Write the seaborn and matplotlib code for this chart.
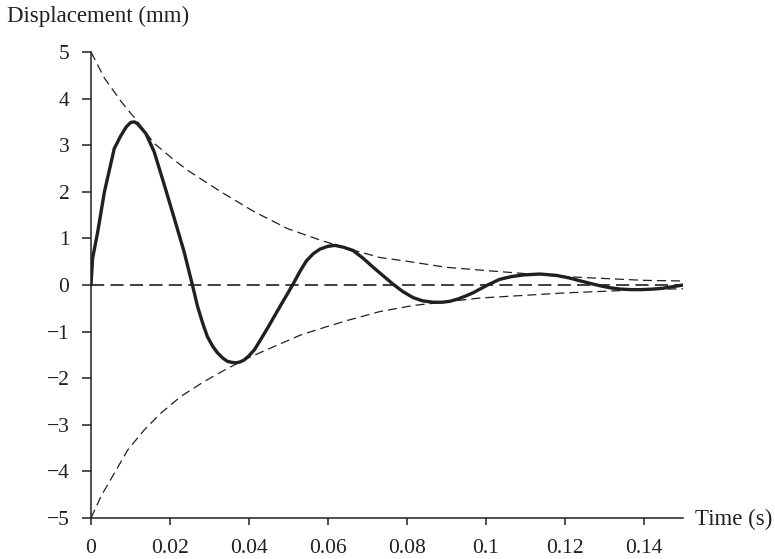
import numpy as np
import pandas as pd
import matplotlib
matplotlib.use("Agg")
import matplotlib.pyplot as plt
import seaborn as sns

# values
t_resp = [0.0, 0.0004, 0.0017, 0.0034, 0.0059, 0.0076, 0.0090, 0.0101, 0.0110, 0.0118,
          0.0139, 0.0160, 0.0186, 0.0211, 0.0236, 0.0257, 0.0270, 0.0283, 0.0295, 0.0308,
          0.0321, 0.0334, 0.0346, 0.0357, 0.0367, 0.0378, 0.0388, 0.0400, 0.0414, 0.0430,
          0.0447, 0.0464, 0.0481, 0.0497, 0.0512, 0.0530, 0.0546, 0.0563, 0.0580, 0.0600,
          0.0618, 0.0640, 0.0664, 0.0690, 0.0715, 0.0740, 0.0765, 0.0790, 0.0816, 0.0840,
          0.0867, 0.0890, 0.0909, 0.0930, 0.0951, 0.0970, 0.0985, 0.1005, 0.1035, 0.1065,
          0.1095, 0.1137, 0.1179, 0.1210, 0.1238, 0.1265, 0.1289, 0.1315, 0.1340, 0.1365,
          0.1390, 0.1420, 0.1449, 0.1475, 0.1500]
x_resp = [0.0, 0.57, 1.14, 2.00, 2.93, 3.21, 3.40, 3.49, 3.50, 3.46,
          3.25, 2.86, 2.14, 1.43, 0.71, 0.0, -0.46, -0.82, -1.11, -1.31,
          -1.46, -1.57, -1.64, -1.66, -1.67, -1.65, -1.61, -1.52, -1.39, -1.17,
          -0.93, -0.68, -0.43, -0.20, 0.02, 0.30, 0.52, 0.67, 0.77, 0.83,
          0.85, 0.81, 0.74, 0.57, 0.38, 0.20, 0.02, -0.14, -0.27, -0.34,
          -0.37, -0.37, -0.35, -0.30, -0.23, -0.16, -0.09, 0.0, 0.12, 0.18,
          0.215, 0.236, 0.206, 0.155, 0.092, 0.035, -0.015, -0.06, -0.086, -0.098,
          -0.10, -0.09, -0.07, -0.035, 0.0]

t_upper = [0.0, 0.0034, 0.0076, 0.0110, 0.0160, 0.0211, 0.0245, 0.0329, 0.0414, 0.0498,
           0.0582, 0.0647, 0.0732, 0.0800, 0.0900, 0.1000, 0.1200, 0.1400, 0.1500]
x_upper = [5.0, 4.44, 3.94, 3.59, 3.04, 2.68, 2.46, 2.00, 1.57, 1.21,
           0.96, 0.79, 0.59, 0.51, 0.38, 0.31, 0.18, 0.10, 0.086]

t_lower = [0.0, 0.0025, 0.0059, 0.0093, 0.0135, 0.0177, 0.0228, 0.0287, 0.0346, 0.0397,
           0.0464, 0.0532, 0.0599, 0.0650, 0.0732, 0.0816, 0.0900, 0.0985, 0.1200, 0.1400,
           0.1500]
x_lower = [-5.0, -4.54, -4.04, -3.54, -3.11, -2.75, -2.39, -2.07, -1.79, -1.57,
           -1.32, -1.07, -0.89, -0.76, -0.57, -0.44, -0.36, -0.28, -0.17, -0.10,
           -0.08]

t_zero = [0.0, 0.15]
x_zero = [0.0, 0.0]

x_ticks = [0, 0.02, 0.04, 0.06, 0.08, 0.1, 0.12, 0.14]
x_ticklabels = ["0", "0.02", "0.04", "0.06", "0.08", "0.1", "0.12", "0.14"]
y_ticks = [-5, -4, -3, -2, -1, 0, 1, 2, 3, 4, 5]

ink = "#231f20"

sns.set_style("ticks")
plt.rcParams["font.family"] = ["Liberation Serif", "DejaVu Serif"]
plt.rcParams["lines.scale_dashes"] = False

fig = plt.figure(figsize=(7.75, 5.59), dpi=100)
ax = fig.add_axes([91 / 775, 1 - 518 / 559, 592 / 775, 466 / 559])

resp = pd.DataFrame({"t": t_resp, "x": x_resp})
upper = pd.DataFrame({"t": t_upper, "x": x_upper})
lower = pd.DataFrame({"t": t_lower, "x": x_lower})
zero = pd.DataFrame({"t": t_zero, "x": x_zero})

sns.lineplot(data=zero, x="t", y="x", ax=ax, color=ink, lw=1.2, sort=False,
             estimator=None).lines[-1].set_dashes((9.5, 4.5))
for env in (upper, lower):
    sns.lineplot(data=env, x="t", y="x", ax=ax, color=ink, lw=0.9, sort=False,
                 estimator=None).lines[-1].set_dashes((6.5, 3.6))
sns.lineplot(data=resp, x="t", y="x", ax=ax, color=ink, lw=2.4, sort=False,
             estimator=None)

ax.set_xlim(0, 0.15)
ax.set_ylim(-5, 5)
ax.set_xticks(x_ticks)
ax.set_xticklabels(x_ticklabels)
ax.set_yticks(y_ticks)
ax.set_yticklabels([str(v).replace("-", "\u2212") for v in y_ticks])
ax.set_xlabel("")
ax.set_ylabel("")

sns.despine(ax=ax)
for s in ("left", "bottom"):
    ax.spines[s].set_linewidth(1.1)
    ax.spines[s].set_color(ink)
ax.tick_params(axis="y", direction="out", length=6.5, width=1.1, color=ink,
               labelsize=15.5, labelcolor=ink, pad=9)
ax.tick_params(axis="x", direction="out", length=5, width=1.1, color=ink,
               labelsize=15.5, labelcolor=ink, pad=10)

fig.text(7 / 775, 1 - 16 / 559, "Displacement (mm)", fontsize=16.5, color=ink,
         ha="left", va="center")
fig.text(695 / 775, 1 - 519 / 559, "Time (s)", fontsize=16.5, color=ink,
         ha="left", va="center")

fig.savefig("out.png", dpi=100)
